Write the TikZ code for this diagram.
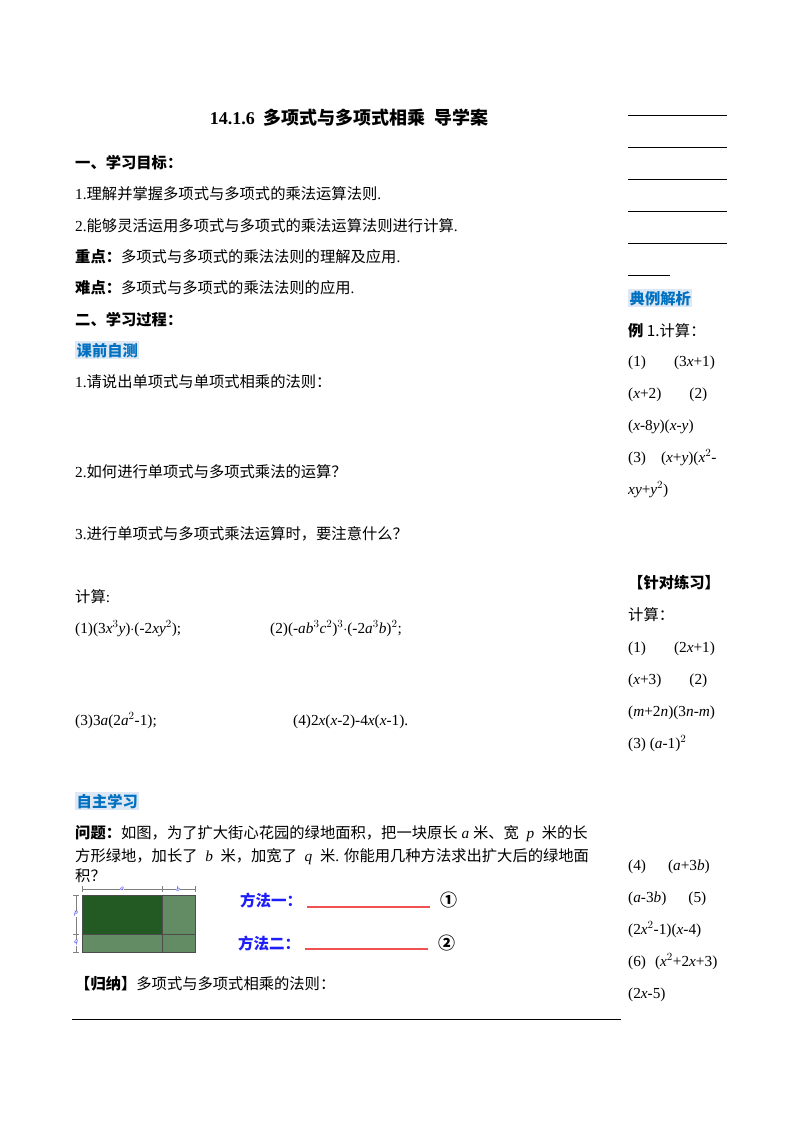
\documentclass[tikz,border=0pt]{standalone}
\usepackage{fontspec}
\setmainfont{Liberation Serif}
\newfontfamily\cjk{Noto Sans CJK SC}
\newcommand\C[1]{{\cjk #1}}
\newcommand\I[1]{\textit{#1}}
\definecolor{hlbg}{RGB}{222,232,244}
\definecolor{hlfg}{RGB}{0,112,192}
\definecolor{mblue}{RGB}{30,30,250}
\definecolor{dgreen}{RGB}{35,90,35}
\definecolor{lgreen}{RGB}{100,140,100}
\definecolor{lred}{RGB}{240,80,80}
\tikzset{t/.style={anchor=base west,inner sep=0pt,font=\fontsize{15.3}{16}\selectfont},
 hl/.style={t,fill=hlbg,inner sep=1.5pt,text=hlfg,font=\fontsize{15.3}{16}\selectfont\bfseries},
 ml/.style={t,text=mblue,font=\fontsize{15.5}{16}\selectfont\bfseries},
 fl/.style={font=\fontsize{7}{7}\selectfont\itshape,text=mblue,fill=white,inner sep=0.5pt},
 rl/.style={draw=black,line width=0.6pt}}
\begin{document}
\begin{tikzpicture}[x=1pt,y=-1pt]
\useasboundingbox[fill=white] (0,0) rectangle (800,1132);
\node[t,anchor=base,font=\fontsize{18}{20}\selectfont\bfseries] (title) at (349,124) {14.1.6\ \ \C{多项式与多项式相乘\ \ 导学案}};
\foreach \yy in {115,147,179,211,243} \draw[rl] (628,\yy) -- (727,\yy);
\draw[rl] (628,275) -- (670,275);
\node[hl] (h1) at (628,304) {\C{典例解析}};
\node[t] (r1) at (628,336) {\C{\textbf{例} 1.计算：}};
\node[t] (r2) at (628,366) {(1)\hspace{28pt}(3\I{x}+1)};
\node[t] (r3) at (628,398) {(\I{x}+2)\hspace{28pt}(2)};
\node[t] (r4) at (628,430) {(\I{x}-8\I{y})(\I{x}-\I{y})};
\node[t] (r5) at (628,462) {(3)\hspace{15pt}(\I{x}+\I{y})(\I{x}$^2$-};
\node[t] (r6) at (628,494) {\I{xy}+\I{y}$^2$)};
\node[t] (r7) at (628,588) {\C{\textbf{【针对练习】}}};
\node[t] (r8) at (628,620) {\C{计算：}};
\node[t] (r9) at (628,652) {(1)\hspace{28pt}(2\I{x}+1)};
\node[t] (r10) at (628,684) {(\I{x}+3)\hspace{28pt}(2)};
\node[t] (r11) at (628,716) {(\I{m}+2\I{n})(3\I{n}-\I{m})};
\node[t] (r12) at (628,748) {(3) (\I{a}-1)$^2$};
\node[t] (r13) at (628,870) {(4)\hspace{22pt}(\I{a}+3\I{b})};
\node[t] (r14) at (628,902) {(\I{a}-3\I{b})\hspace{22pt}(5)};
\node[t] (r15) at (628,934) {(2\I{x}$^2$-1)(\I{x}-4)};
\node[t] (r16) at (628,966) {(6)\hspace{9pt}(\I{x}$^2$+2\I{x}+3)};
\node[t] (r17) at (628,998) {(2\I{x}-5)};
\node[t] (l1) at (75,168) {\C{\textbf{一、学习目标：}}};
\node[t] (l2) at (75,199) {1.\C{理解并掌握多项式与多项式的乘法运算法则}.};
\node[t] (l3) at (75,231) {2.\C{能够灵活运用多项式与多项式的乘法运算法则进行计算}.};
\node[t] (l4) at (75,262) {\C{\textbf{重点：}多项式与多项式的乘法法则的理解及应用}.};
\node[t] (l5) at (75,293) {\C{\textbf{难点：}多项式与多项式的乘法法则的应用}.};
\node[t] (l6) at (75,325) {\C{\textbf{二、学习过程：}}};
\node[hl] (h2) at (75,356) {\C{课前自测}};
\node[t] (l7) at (75,387) {1.\C{请说出单项式与单项式相乘的法则：}};
\node[t] (l8) at (75,477) {2.\C{如何进行单项式与多项式乘法的运算？}};
\node[t] (l9) at (75,539) {3.\C{进行单项式与多项式乘法运算时，要注意什么？}};
\node[t] (l10) at (75,602) {\C{计算}:};
\node[t] (l11) at (75,633) {(1)(3\I{x}$^3$\I{y})$\cdot$(-2\I{xy}$^2$);};
\node[t] (l12) at (270,633) {(2)(-\I{ab}$^3$\I{c}$^2$)$^3\cdot$(-2\I{a}$^3$\I{b})$^2$;};
\node[t] (l13) at (75,725) {(3)3\I{a}(2\I{a}$^2$-1);};
\node[t] (l14) at (293,725) {(4)2\I{x}(\I{x}-2)-4\I{x}(\I{x}-1).};
\node[hl] (h3) at (75,807) {\C{自主学习}};
\node[t] (l15) at (75,838) {\C{\textbf{问题：}如图，为了扩大街心花园的绿地面积，把一块原长} \I{a} \C{米、宽} ~\I{p} ~\C{米的长}};
\node[t] (l16) at (75,861) {\C{方形绿地，加长了} ~\I{b} ~\C{米，加宽了} ~\I{q} ~\C{米}. \C{你能用几种方法求出扩大后的绿地面}};
\node[t] (l17) at (75,881) {\C{积？}};
\fill[lgreen] (82,895) rectangle (195,952);
\fill[dgreen] (82,895) rectangle (162,934);
\draw[black!70,line width=0.5pt] (82,895) rectangle (195,952);
\draw[black!70,line width=0.5pt] (82,934) -- (195,934) (162,895) -- (162,952);
\draw[gray,line width=0.3pt] (82,889) -- (195,889) (82,886) -- (82,892) (162,886) -- (162,892) (195,886) -- (195,892);
\draw[gray,line width=0.3pt] (76,895) -- (76,952) (73,895) -- (79,895) (73,934) -- (79,934) (73,952) -- (79,952);
\node[fl] (fa) at (122,889) {a};
\node[fl] (fb) at (178,889) {b};
\node[fl] (fp) at (76,914) {p};
\node[fl] (fq) at (76,943) {q};
\node[ml] (m1) at (240,906) {\C{\textbf{方法一：}}};
\draw[lred,line width=1.2pt] (307,907) -- (430,907);
\node[t,font=\fontsize{17}{18}\selectfont\bfseries] (c1) at (440,906) {\C{①}};
\node[ml] (m2) at (238,949) {\C{\textbf{方法二：}}};
\draw[lred,line width=1.2pt] (305,949) -- (428,949);
\node[t,font=\fontsize{17}{18}\selectfont\bfseries] (c2) at (438,949) {\C{②}};
\node[t] (l18) at (75,989) {\C{\textbf{【归纳】}多项式与多项式相乘的法则：}};
\draw[line width=0.6pt] (72,1019) -- (621,1019);
\end{tikzpicture}
\end{document}
